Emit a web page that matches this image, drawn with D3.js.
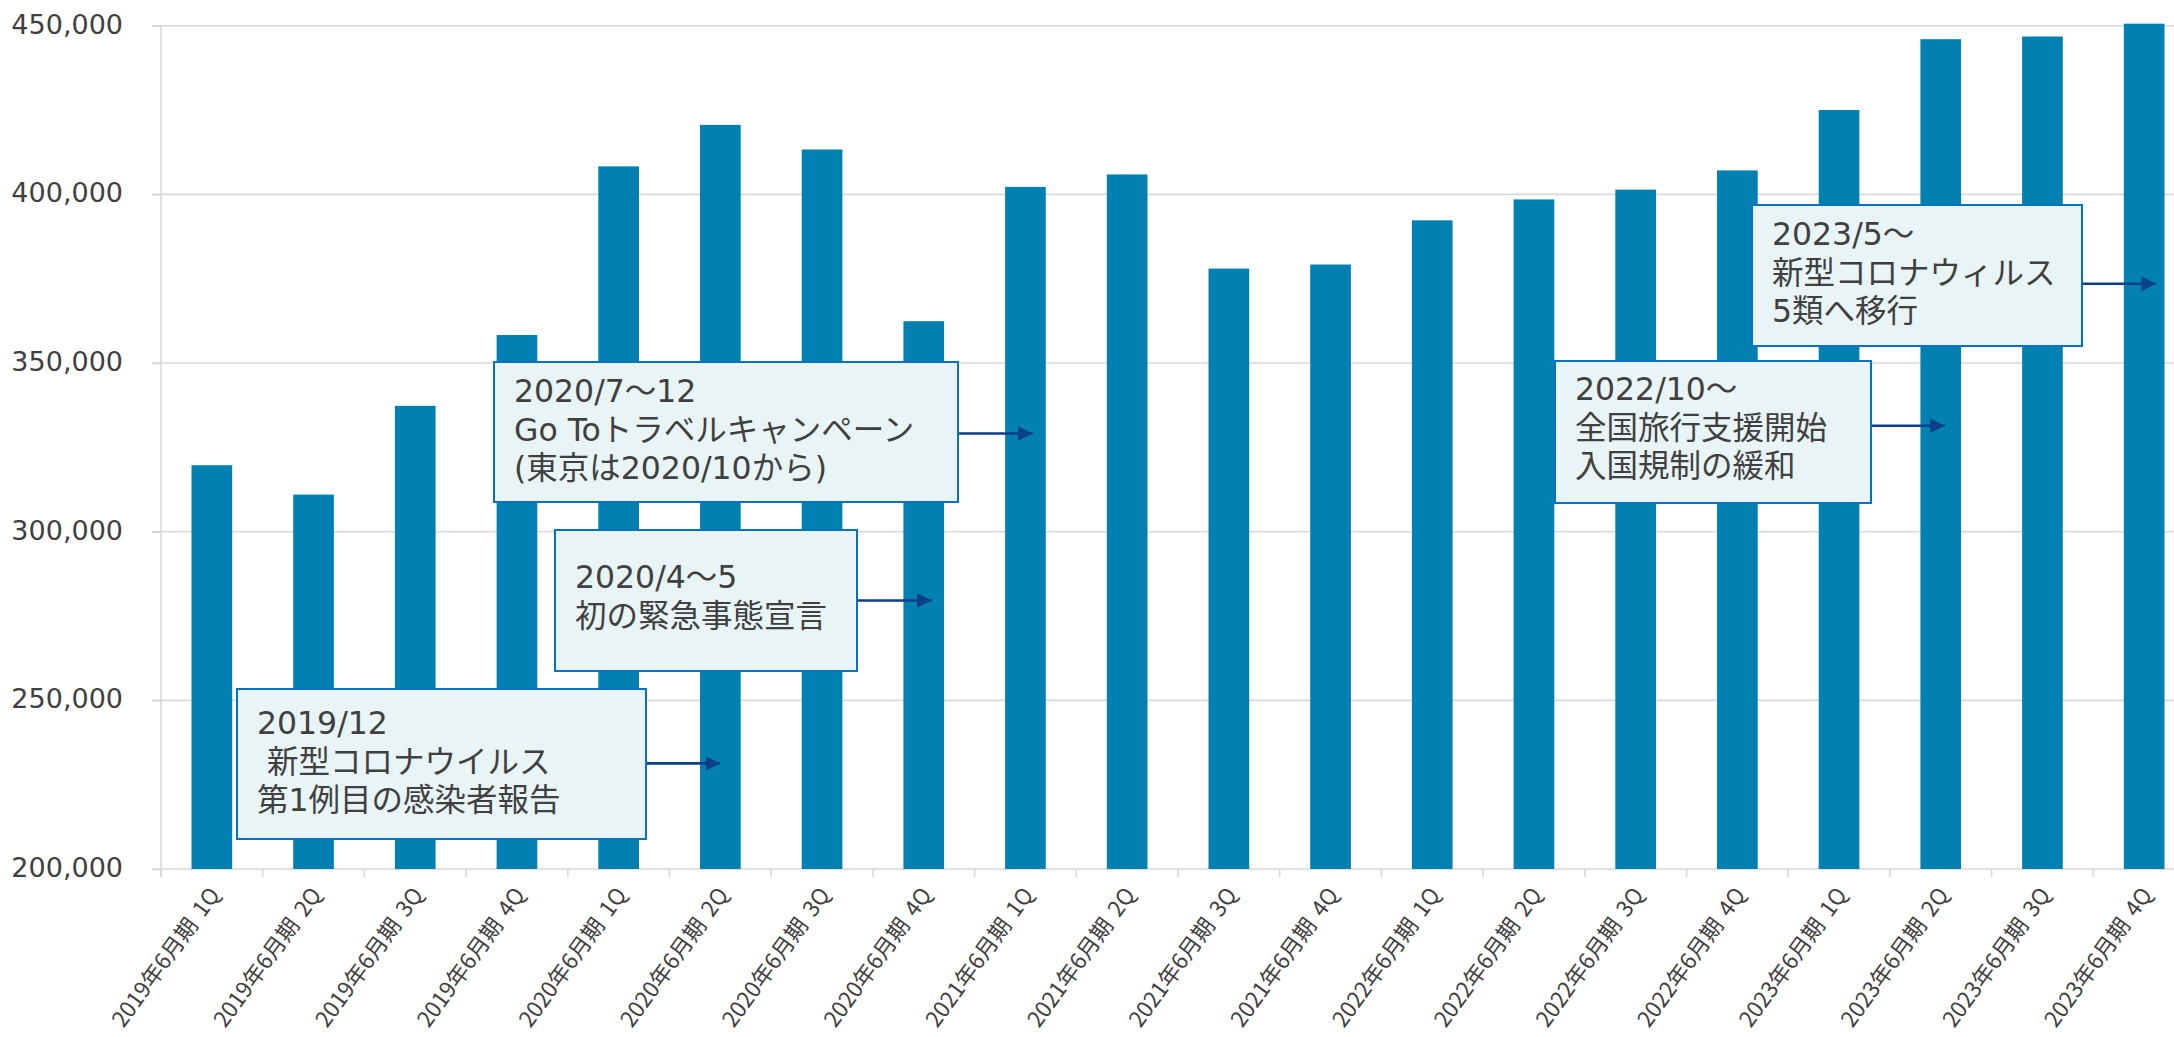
<!DOCTYPE html>
<html>
<head>
<meta charset="utf-8">
<script src="https://cdn.jsdelivr.net/npm/d3@7"></script>
<style>
  body { margin: 0; background: #fff; }
  svg { display: block; }
</style>
</head>
<body>
<div id="chart"></div>
<script>
const width = 2174
const height = 1037

// data
const categories = [
  "2019年6月期 1Q", "2019年6月期 2Q", "2019年6月期 3Q", "2019年6月期 4Q",
  "2020年6月期 1Q", "2020年6月期 2Q", "2020年6月期 3Q", "2020年6月期 4Q",
  "2021年6月期 1Q", "2021年6月期 2Q", "2021年6月期 3Q", "2021年6月期 4Q",
  "2022年6月期 1Q", "2022年6月期 2Q", "2022年6月期 3Q", "2022年6月期 4Q",
  "2023年6月期 1Q", "2023年6月期 2Q", "2023年6月期 3Q", "2023年6月期 4Q"
]
const values = [
  319700, 311000, 337300, 358300,
  408300, 420600, 413300, 362400,
  402200, 405900, 378000, 379200,
  392300, 398500, 401400, 407100,
  425000, 446000, 446800, 450600
]
const yTicks = [200000, 250000, 300000, 350000, 400000, 450000]

// callouts: text, the bar the arrow points at, and the value level of the arrow
const noteLines = [
  ["2019/12", " 新型コロナウイルス", "第1例目の感染者報告"],
  ["2020/7～12", "Go Toトラベルキャンペーン", "(東京は2020/10から)"],
  ["2020/4～5", "初の緊急事態宣言"],
  ["2022/10～", "全国旅行支援開始", "入国規制の緩和"],
  ["2023/5～", "新型コロナウィルス", "5類へ移行"]
]
const noteTargets = ["2020年6月期 2Q", "2021年6月期 1Q", "2020年6月期 4Q", "2023年6月期 2Q", "2023年6月期 4Q"]
const noteValues = [231300, 329100, 279600, 331400, 373500]

// callout layout (pixels)
const noteBoxes = [
  {x: 237, y: 689, w: 409, h: 150, first: 45, dx: 0},
  {x: 494, y: 362, w: 464, h: 140, first: 40, dx: 7},
  {x: 555, y: 530, w: 302, h: 141, first: 58, dx: 8},
  {x: 1555, y: 361, w: 316, h: 142, first: 39, dx: 4},
  {x: 1752, y: 205, w: 330, h: 141, first: 40, dx: 12}
]

const axisLeftX = 161
const step = 101.7
const plotTop = 25.7
const plotBase = 869

const svg = d3.select("div#chart").append("svg").attr("width", width).attr("height", height)

const x = d3.scaleBand().domain(categories)
  .range([axisLeftX, axisLeftX + step * categories.length])
  .paddingInner(0.6).paddingOuter(0.3)
const y = d3.scaleLinear().domain([200000, 450000]).range([plotBase, plotTop])

const gridColor = "#d9d9d9"
const textColor = "#404040"

// gridlines
svg.append("g").attr("class", "grid")
  .selectAll("line").data(yTicks).enter().append("line")
  .attr("x1", axisLeftX - 9).attr("x2", width)
  .attr("y1", d => y(d)).attr("y2", d => y(d))
  .attr("stroke", gridColor).attr("stroke-width", 1.6)

// y axis
const yAxis = d3.axisLeft(y).tickValues(yTicks).tickSize(9).tickSizeOuter(0)
  .tickPadding(29).tickFormat(d3.format(","))
const yAxisGroup = svg.append("g").attr("transform", `translate(${axisLeftX}, 0)`).call(yAxis)
yAxisGroup.select(".domain").attr("stroke", gridColor).attr("stroke-width", 1.6)
  .attr("d", `M0,${plotTop}V${plotBase + 8}`)
yAxisGroup.selectAll(".tick line").attr("stroke", gridColor).attr("stroke-width", 1.6)
yAxisGroup.selectAll(".tick text")
  .attr("font-family", "DejaVu Sans, Verdana, sans-serif")
  .attr("font-size", 27).attr("fill", textColor).attr("dy", "0.28em")

// x axis ticks at band boundaries
const bandStart = c => x(c) - (x.step() - x.bandwidth()) / 2
const boundaries = categories.map(bandStart).concat([bandStart(categories[categories.length - 1]) + x.step()])
svg.append("g").attr("class", "xticks")
  .selectAll("line").data(boundaries).enter().append("line")
  .attr("x1", d => d).attr("x2", d => d)
  .attr("y1", plotBase).attr("y2", plotBase + 8)
  .attr("stroke", gridColor).attr("stroke-width", 1.6)

// bars
svg.append("g").attr("class", "bars")
  .selectAll("rect").data(values).enter().append("rect")
  .attr("x", (d, i) => x(categories[i]))
  .attr("y", d => y(d))
  .attr("width", x.bandwidth())
  .attr("height", d => plotBase - y(d))
  .attr("fill", "#0380b2")

// x labels
const xLabels = svg.append("g").attr("class", "xlabels")
  .selectAll("text").data(categories).enter().append("text")
  .attr("transform", d => `translate(${x(d) + x.bandwidth() / 2 + 9}, ${plotBase + 26}) rotate(-54)`)
  .attr("text-anchor", "end")
  .attr("font-family", "Noto Sans CJK JP, sans-serif")
  .attr("font-size", 22.2)
  .attr("fill", textColor)
xLabels.append("tspan").text(d => d.split(" ")[0] + " ")
xLabels.append("tspan").attr("dx", "0.16em").text(d => d.split(" ")[1])

// callouts
const defs = svg.append("defs")
defs.append("marker").attr("id", "arrow")
  .attr("viewBox", "0 0 10 10").attr("refX", 10).attr("refY", 5)
  .attr("markerWidth", 5.6).attr("markerHeight", 5.4).attr("markerUnits", "strokeWidth")
  .attr("orient", "auto")
  .append("path").attr("d", "M0,0L10,5L0,10Z").attr("fill", "#0b3f8a")

const notes = svg.append("g").attr("class", "notes")
noteLines.forEach((lines, i) => {
  const b = noteBoxes[i]
  const g = notes.append("g")
  const tipX = x(noteTargets[i]) + x.bandwidth() / 2 + b.dx
  g.append("line")
    .attr("x1", b.x + b.w).attr("x2", tipX)
    .attr("y1", y(noteValues[i])).attr("y2", y(noteValues[i]))
    .attr("stroke", "#0b3f8a").attr("stroke-width", 2.7)
    .attr("marker-end", "url(#arrow)")
  g.append("rect")
    .attr("x", b.x).attr("y", b.y).attr("width", b.w).attr("height", b.h)
    .attr("fill", "#e8f4f6").attr("stroke", "#0a70c0").attr("stroke-width", 2)
  const t = g.append("text")
    .attr("font-family", "DejaVu Sans, Noto Sans CJK JP, sans-serif")
    .attr("font-size", 31.5).attr("fill", textColor)
    .attr("xml:space", "preserve")
  lines.forEach((line, j) => {
    t.append("tspan").attr("x", b.x + 20).attr("y", b.y + b.first + j * 38.5).text(line)
  })
})
</script>
</body>
</html>
